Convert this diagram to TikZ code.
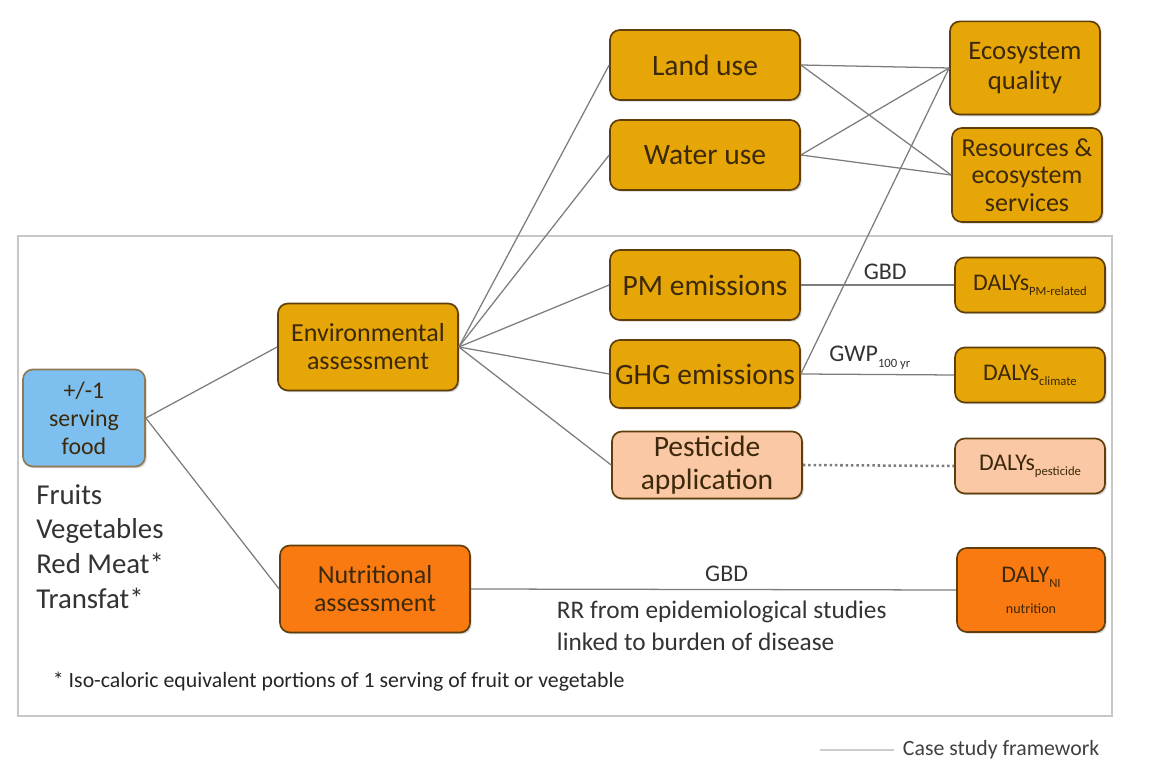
\documentclass[tikz,border=0pt]{standalone}
\usepackage{fontspec}
\setmainfont{Carlito}
\usepackage{xcolor}
\definecolor{lcgold}{RGB}{230,166,8}
\definecolor{lcpeach}{RGB}{250,200,165}
\definecolor{lcorange}{RGB}{250,122,18}
\definecolor{lcblue}{RGB}{125,192,240}
\definecolor{lcedge}{RGB}{95,62,10}
\definecolor{lctext}{RGB}{60,40,10}
\definecolor{lcline}{RGB}{125,125,125}
\usetikzlibrary{positioning,shadows}
\newcommand{\lcsub}[1]{\raisebox{-0.45ex}{\fontsize{9}{10}\selectfont #1}}

\begin{document}
\begin{tikzpicture}[
  stage/.style={draw=lcedge, line width=1.2pt, rounded corners=7pt, align=center, text=lctext,
    drop shadow={opacity=0.35, shadow xshift=1.2pt, shadow yshift=-1.2pt}},
  goldbox/.style={stage, fill=lcgold},
  peachbox/.style={stage, fill=lcpeach},
  orangebox/.style={stage, fill=lcorange},
  bluebox/.style={stage, fill=lcblue, draw=lcedge!70},
  link/.style={draw=lcline, line width=0.9pt},
  tag/.style={font=\fontsize{17}{20}\selectfont, text=black!80}
]
  \useasboundingbox (0,0) rectangle (29.375,19.25);
  % case study frame
  \draw[draw=black!22, line width=1.4pt] (0.45,13.35) rectangle (27.8,1.35);

  % midpoint / endpoint boxes
  \node[goldbox, minimum width=4.75cm, minimum height=1.75cm, font=\fontsize{21}{24}\selectfont] (land) at (17.625,17.625) {Land use};
  \node[goldbox, minimum width=4.75cm, minimum height=1.75cm, font=\fontsize{21}{24}\selectfont] (water) at (17.625,15.375) {Water use};
  \node[goldbox, minimum width=4.75cm, minimum height=1.75cm, font=\fontsize{21}{24}\selectfont] (pm) at (17.625,12.125) {PM emissions};
  \node[goldbox, minimum width=4.75cm, minimum height=1.7cm, font=\fontsize{21}{24}\selectfont] (ghg) at (17.625,9.9) {GHG emissions};
  \node[peachbox, minimum width=4.75cm, minimum height=1.65cm, font=\fontsize{21}{23}\selectfont] (pest) at (17.675,7.625) {Pesticide\\application};
  \node[goldbox, minimum width=3.75cm, minimum height=2.33cm, font=\fontsize{19}{21}\selectfont] (eco) at (25.625,17.55) {Ecosystem\\quality};
  \node[goldbox, minimum width=3.75cm, minimum height=2.35cm, font=\fontsize{18.5}{19.5}\selectfont] (res) at (25.675,14.875) {Resources \&\\ecosystem\\services};
  \node[goldbox, minimum width=3.75cm, minimum height=1.375cm, font=\fontsize{17}{20}\selectfont] (dpm) at (25.75,12.125) {DALYs\lcsub{PM-related}};
  \node[goldbox, minimum width=3.75cm, minimum height=1.375cm, font=\fontsize{17}{20}\selectfont] (dghg) at (25.75,9.875) {DALYs\lcsub{climate}};
  \node[peachbox, minimum width=3.75cm, minimum height=1.375cm, font=\fontsize{17}{20}\selectfont] (dpest) at (25.75,7.6) {DALYs\lcsub{pesticide}};
  \node[orangebox, minimum width=3.7cm, minimum height=2.1cm, font=\fontsize{17}{22}\selectfont] (dnut) at (25.775,4.5) {DALY\lcsub{NI}\\{\fontsize{10}{12}\selectfont nutrition}};

  % assessments and food
  \node[goldbox, minimum width=4.5cm, minimum height=2.175cm, font=\fontsize{18.5}{20}\selectfont] (env) at (9.2,10.575) {Environmental\\assessment};
  \node[orangebox, minimum width=4.75cm, minimum height=2.175cm, font=\fontsize{18.5}{20}\selectfont] (nut) at (9.375,4.525) {Nutritional\\assessment};
  \node[bluebox, minimum width=3.05cm, minimum height=2.425cm, font=\fontsize{17}{20}\selectfont] (food) at (2.1,8.8) {+/-1\\serving\\food};
  \node[align=left, anchor=north west, inner sep=0pt, font=\fontsize{20.5}{24.8}\selectfont, text=black!80] (items) at (0.9,7.15) {Fruits\\Vegetables\\Red Meat*\\Transfat*};

  % connectors
  \draw[link] (food.east) -- (env.west);
  \draw[link] (food.east) -- (nut.west);
  \foreach \dest in {land,water,pm,ghg,pest}
    \draw[link] (env.east) -- (\dest.west);
  \foreach \src in {land,water}
    \foreach \dest in {eco,res}
      \draw[link] (\src.east) -- (\dest.west);
  \draw[link] (ghg.east) -- (eco.west);
  \draw[link] (pm.east) -- node[tag, above=0pt, pos=0.55] (gbdpm) {GBD} (dpm.west);
  \draw[link] (ghg.east) -- node[tag, above=0pt, pos=0.45] (gwp) {GWP\lcsub{100 yr}} (dghg.west);
  \draw[draw=lcline, line width=1.8pt, dotted] (pest.east) -- (dpest.west);
  \draw[link] (nut.east) -- node[tag, above=2pt, pos=0.527] (gbdnut) {GBD} (dnut.west);
  \node[align=left, anchor=north west, font=\fontsize{18}{22.7}\selectfont, text=black!80] (rr) at (13.8,4.35) {RR from epidemiological studies\\linked to burden of disease};

  % footnote and legend
  \node[anchor=west, font=\fontsize{15.5}{18}\selectfont, text=black!85] (note) at (1.2,2.2) {* Iso-caloric equivalent portions of 1 serving of fruit or vegetable};
  \coordinate (keyA) at (20.5,0.5);
  \coordinate (keyB) at (22.35,0.5);
  \draw[draw=black!20, line width=1.2pt] (keyA) -- (keyB);
  \node[anchor=west, font=\fontsize{15.5}{18}\selectfont, text=black!75] (key) at (22.45,0.5) {Case study framework};
\end{tikzpicture}
\end{document}
